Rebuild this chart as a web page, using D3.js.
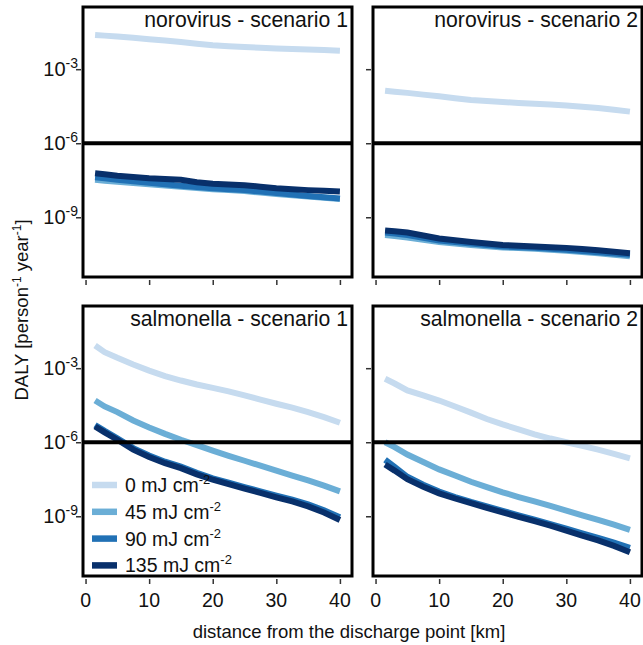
<!DOCTYPE html>
<html>
<head>
<meta charset="utf-8">
<script src="https://cdn.jsdelivr.net/npm/d3@7"></script>
<style>
body { margin: 0; background: #fff; }
text { font-family: "Liberation Sans", Arial, sans-serif; fill: #111; }
.axis path { display: none; }
.axis line { stroke: #333; stroke-width: 1.5; }
</style>
</head>
<body>
<svg width="643" height="645"></svg>
<script>
// distance from the discharge point [km]
const distance = [1.5, 3, 5, 7.5, 10, 12.5, 15, 17.5, 20, 22.5, 25, 27.5, 30, 32.5, 35, 37.5, 40]
const doses = ["0", "45", "90", "135"]
const colors = ["#c6dbef", "#6baed6", "#2171b5", "#08306b"]

// log10 of DALY, one row per dose (0, 45, 90, 135 mJ cm-2)
const noro1 = [
  [-1.61, -1.64, -1.68, -1.73, -1.79, -1.84, -1.90, -1.97, -2.03, -2.07, -2.10, -2.13, -2.16, -2.18, -2.20, -2.22, -2.25],
  [-7.48, -7.52, -7.56, -7.61, -7.66, -7.71, -7.76, -7.81, -7.86, -7.90, -7.94, -8.00, -8.06, -8.11, -8.16, -8.21, -8.26],
  [-7.38, -7.42, -7.48, -7.54, -7.60, -7.66, -7.72, -7.77, -7.82, -7.86, -7.90, -7.96, -8.02, -8.08, -8.14, -8.19, -8.24],
  [-7.22, -7.26, -7.32, -7.37, -7.42, -7.45, -7.48, -7.58, -7.64, -7.67, -7.70, -7.76, -7.82, -7.86, -7.90, -7.93, -7.96]
]
const noro2 = [
  [-3.87, -3.91, -3.96, -4.03, -4.10, -4.18, -4.25, -4.29, -4.33, -4.37, -4.40, -4.43, -4.47, -4.52, -4.57, -4.64, -4.72],
  [-9.72, -9.76, -9.82, -9.91, -10.00, -10.06, -10.12, -10.17, -10.22, -10.25, -10.28, -10.32, -10.36, -10.41, -10.46, -10.52, -10.58],
  [-9.62, -9.66, -9.72, -9.83, -9.94, -10.00, -10.06, -10.12, -10.18, -10.21, -10.24, -10.28, -10.32, -10.37, -10.42, -10.47, -10.52],
  [-9.54, -9.57, -9.62, -9.74, -9.86, -9.93, -10.00, -10.06, -10.12, -10.15, -10.18, -10.21, -10.24, -10.29, -10.34, -10.40, -10.46]
]
const salm1 = [
  [-2.08, -2.35, -2.58, -2.85, -3.10, -3.32, -3.50, -3.66, -3.80, -3.94, -4.10, -4.27, -4.44, -4.60, -4.78, -4.98, -5.21],
  [-4.31, -4.55, -4.78, -5.12, -5.40, -5.66, -5.90, -6.12, -6.34, -6.55, -6.75, -6.95, -7.15, -7.35, -7.55, -7.76, -7.99],
  [-5.30, -5.54, -5.84, -6.24, -6.54, -6.79, -6.99, -7.24, -7.46, -7.64, -7.82, -7.99, -8.16, -8.33, -8.52, -8.76, -9.04],
  [-5.36, -5.60, -5.90, -6.30, -6.60, -6.85, -7.05, -7.30, -7.52, -7.70, -7.88, -8.05, -8.23, -8.40, -8.60, -8.85, -9.15]
]
const salm2 = [
  [-3.43, -3.62, -3.90, -4.10, -4.31, -4.55, -4.80, -5.06, -5.28, -5.48, -5.68, -5.85, -6.00, -6.15, -6.30, -6.47, -6.65],
  [-6.00, -6.20, -6.50, -6.80, -7.10, -7.35, -7.60, -7.82, -8.03, -8.22, -8.40, -8.58, -8.77, -8.96, -9.15, -9.34, -9.55],
  [-6.71, -7.00, -7.40, -7.72, -8.00, -8.22, -8.42, -8.60, -8.78, -8.96, -9.14, -9.32, -9.50, -9.69, -9.88, -10.07, -10.28],
  [-6.90, -7.15, -7.50, -7.80, -8.07, -8.28, -8.47, -8.66, -8.84, -9.02, -9.20, -9.38, -9.58, -9.78, -9.98, -10.20, -10.46]
]

const panelTitles = ["norovirus - scenario 1", "norovirus - scenario 2", "salmonella - scenario 1", "salmonella - scenario 2"]
const panelData = [noro1, noro2, salm1, salm2]
const xTicks = [0, 10, 20, 30, 40]
const yTicks = [-9, -6, -3]
const threshold = 1e-6

const colX = [83, 373]
const rowY = [7, 306]
const pw = 269
const ph = 270

const x = d3.scaleLinear().domain([-0.4, 41.9]).range([0, pw])
const y = d3.scaleLog().domain([Math.pow(10, -11.42), Math.pow(10, -0.48)]).range([ph, 0])

const svg = d3.select("svg")

const line = d3.line()
  .x(function (d) { return x(d[0]) })
  .y(function (d) { return y(Math.pow(10, d[1])) })

panelData.forEach(function (series, i) {
  const col = i % 2, row = Math.floor(i / 2)
  const g = svg.append("g")
    .attr("transform", "translate(" + colX[col] + "," + rowY[row] + ")")

  // axes ticks (outside the frame)
  g.append("g")
    .attr("class", "axis")
    .attr("transform", "translate(-2,0)")
    .call(d3.axisLeft(y).tickValues(yTicks.map(function (e) { return Math.pow(10, e) })).tickSize(5).tickFormat(""))
  g.append("g")
    .attr("class", "axis")
    .attr("transform", "translate(0," + (ph + 3) + ")")
    .call(d3.axisBottom(x).tickValues(xTicks).tickSize(5).tickFormat(""))

  if (col === 0) {
    const lab = g.selectAll("text.ylab")
      .data(yTicks)
      .enter()
      .append("text")
      .attr("class", "ylab")
      .attr("text-anchor", "end")
      .attr("x", -5)
      .attr("y", function (d) { return y(Math.pow(10, d)) + 7 })
      .style("font-size", "20px")
    lab.append("tspan").text("10")
    lab.append("tspan").attr("dy", -8).style("font-size", "14px").text(function (d) { return "-" + Math.abs(d) })
  }
  if (row === 1) {
    g.selectAll("text.xlab")
      .data(xTicks)
      .enter()
      .append("text")
      .attr("class", "xlab")
      .attr("text-anchor", "middle")
      .attr("x", function (d) { return x(d) })
      .attr("y", ph + 31)
      .style("font-size", "19.5px")
      .text(function (d) { return d })
  }

  g.append("clipPath").attr("id", "clip" + i)
    .append("rect").attr("width", pw).attr("height", ph)

  g.append("g")
    .attr("clip-path", "url(#clip" + i + ")")
    .selectAll("path")
    .data(series)
    .enter()
    .append("path")
    .attr("fill", "none")
    .attr("stroke", function (d, j) { return colors[j] })
    .attr("stroke-width", 6)
    .attr("d", function (d) { return line(d.map(function (v, k) { return [distance[k], v] })) })

  g.append("line")
    .attr("x1", 0).attr("x2", pw)
    .attr("y1", y(threshold)).attr("y2", y(threshold))
    .attr("stroke", "#000")
    .attr("stroke-width", 4)

  g.append("rect")
    .attr("width", pw).attr("height", ph)
    .attr("fill", "none")
    .attr("stroke", "#000")
    .attr("stroke-width", 3)

  g.append("text")
    .attr("text-anchor", "end")
    .attr("x", pw - 4)
    .attr("y", 20)
    .style("font-size", "21.2px")
    .text(panelTitles[i])

  if (i === 2) {
    const leg = g.selectAll("g.legend")
      .data(doses)
      .enter()
      .append("g")
      .attr("class", "legend")
      .attr("transform", function (d, j) { return "translate(9," + (179 + j * 26.8) + ")" })
    leg.append("line")
      .attr("x1", 0).attr("x2", 25)
      .attr("stroke", function (d, j) { return colors[j] })
      .attr("stroke-width", 6.5)
    const t = leg.append("text")
      .attr("x", 33)
      .attr("y", 7)
      .style("font-size", "19.5px")
    t.append("tspan").text(function (d) { return d + " mJ cm" })
    t.append("tspan").attr("dy", -8).style("font-size", "13px").text("-2")
  }
})

svg.append("text")
  .attr("text-anchor", "middle")
  .attr("x", 349)
  .attr("y", 638)
  .style("font-size", "18.5px")
  .text("distance from the discharge point [km]")

const yt = svg.append("text")
  .attr("text-anchor", "middle")
  .attr("transform", "translate(28,310) rotate(-90)")
  .style("font-size", "18.5px")
yt.append("tspan").text("DALY [person")
yt.append("tspan").attr("dy", -7).style("font-size", "12px").text("-1")
yt.append("tspan").attr("dy", 7).text(" year")
yt.append("tspan").attr("dy", -7).style("font-size", "12px").text("-1")
yt.append("tspan").attr("dy", 7).text("]")
</script>
</body>
</html>
